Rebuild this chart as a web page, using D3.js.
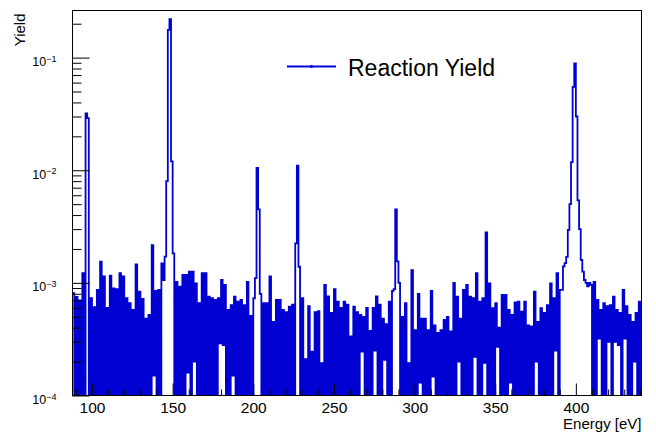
<!DOCTYPE html>
<html>
<head>
<meta charset="utf-8">
<script src="https://cdn.jsdelivr.net/npm/d3@7/dist/d3.min.js"></script>
<style>
  body { margin: 0; background: #fff; }
  svg { display: block; font-family: "Liberation Sans", Arial, Helvetica, sans-serif; }
</style>
</head>
<body>
<svg id="chart"></svg>
<script>
// Reaction yield histogram, 1 eV bins starting at 88 eV
// values are in units of 1e-4 (0 = empty bin)
var binStart = 88,
    binWidth = 1,
    yieldUnit = 1e-4;

var yield088 = [8.1, 0, 7.5, 0, 7.0, 0, 12.2, 0, 320, 290,
  0, 7.3, 0, 6.1, 0, 8.65, 0, 15.4, 0, 11.4,
  0, 6.0, 0, 11.6, 0, 8.95, 0, 8.8, 0, 12.2,
  0, 11.4, 0, 7.3, 0, 6.6, 0, 5.75, 0, 14.6,
  0, 8.35, 0, 7.2, 0, 4.8, 0, 5.2, 0, 21.6];
var yield138 = [1.5, 8.5, 0, 8.65, 0, 14.9, 10.6, 17.1, 80, 1760,
  2190, 120, 18.3, 0, 10.2, 0, 9.25, 0, 11.8, 0,
  11.8, 1.6, 12.6, 0, 12.6, 2.0, 9.9, 0, 6.6, 0,
  12.2, 0, 12.2, 0, 7.55, 0, 7.3, 0, 7.05, 0,
  7.3, 2.9, 10.6, 2.8, 9.6, 0, 5.75, 0, 6.35, 1.5];
var yield188 = [7.55, 0, 6.8, 0, 7.05, 0, 6.35, 0, 10.2, 0,
  5.1, 0, 7.3, 11, 105, 45, 8, 0, 6.6, 0,
  6.6, 0, 11.4, 0, 4.5, 0, 7.05, 0, 7.05, 0,
  5.75, 0, 5.5, 0, 6.15, 0, 6.4, 0, 22.4, 110,
  13.9, 0, 7.3, 0, 2.1, 0, 6.2, 0, 2.45, 0];
var yield238 = [5.5, 0, 5.6, 0, 1.94, 0, 9.6, 0, 7.6, 0,
  5.4, 0, 8.8, 0, 6.8, 0, 6.0, 0, 6.8, 0,
  6.4, 0, 3.35, 0, 6.15, 0, 5.5, 0, 5.2, 2.45,
  5.0, 0, 6.0, 0, 3.75, 0, 6.0, 2.5, 7.6, 0,
  6.4, 0, 4.8, 2.07, 4.3, 0, 6.8, 0, 8.5, 8.8];
var yield288 = [45, 15.5, 10, 0, 5.0, 0, 6.6, 0, 1.94, 0,
  13, 0, 3.8, 0, 8.0, 1.3, 4.8, 0, 4.8, 0,
  3.8, 0, 8.5, 1.47, 4.2, 0, 3.6, 0, 3.8, 0,
  4.7, 0, 5.0, 0, 3.7, 0, 10, 0, 7.55, 2.0,
  4.8, 0, 8.65, 0, 9.6, 0, 7.55, 0, 7.3, 2.2];
var yield338 = [12.2, 0, 6.8, 0, 7.3, 1.95, 28, 0, 9.9, 0,
  5.95, 0, 6.6, 2.7, 4.0, 0, 7.8, 0, 7.8, 0,
  5.75, 1.3, 5.2, 0, 6.7, 0, 6.8, 0, 5.55, 0,
  6.8, 0, 4.2, 0, 4.1, 0, 8.35, 2.0, 4.5, 0,
  5.95, 0, 5.4, 0, 6.35, 0, 9.9, 0, 7.3, 2.5];
var yield388 = [12.2, 0, 8.65, 8.65, 14, 15, 17, 29.5, 50, 118,
  550, 890, 300, 54, 30, 16, 12.6, 10.6, 10, 9.3,
  10, 9.6, 0, 10.2, 0, 7.05, 3.2, 5.75, 0, 6.6,
  0, 6.2, 3.0, 6.35, 0, 7.55, 3.0, 5.75, 2.8, 5.4,
  0, 8.65, 3.2, 6.2, 0, 5.2, 0, 4.5, 2.0, 5.4,
  0, 6.8, 0];

// axis ranges and ticks
var xRange = [87.9, 440.7],
    yRange = [1e-4, 0.262];
var xMajorTicks = [100, 150, 200, 250, 300, 350, 400];
var yMajorTicks = [1e-4, 1e-3, 1e-2, 1e-1];
var legendLabel = "Reaction Yield";

var counts = [].concat(yield088, yield138, yield188, yield238, yield288, yield338, yield388);
var bins = counts.map(function (c, i) {
  return { x: binStart + i * binWidth, y: c * yieldUnit };
});
// closing point for the last step
bins.push({ x: binStart + counts.length * binWidth, y: bins[bins.length - 1].y });

var width = 656,
    height = 433,
    frame = { left: 72.5, right: 641.5, top: 10.5, bottom: 395.5 };

var colour = "#0000d2";

var svg = d3.select("#chart")
  .attr("width", width)
  .attr("height", height);

svg.append("rect")
  .attr("width", width)
  .attr("height", height)
  .attr("fill", "#fff");

var x = d3.scaleLinear()
  .domain(xRange)
  .range([frame.left, frame.right]);

var y = d3.scaleLog()
  .domain(yRange)
  .range([frame.bottom, frame.top])
  .clamp(true);

svg.append("clipPath")
  .attr("id", "frame-clip")
  .append("rect")
    .attr("x", frame.left)
    .attr("y", frame.top)
    .attr("width", frame.right - frame.left)
    .attr("height", frame.bottom - frame.top);

// histogram outline (empty bins drop to the bottom of the log axis)
var line = d3.line()
  .x(function (d) { return x(d.x); })
  .y(function (d) { return y(Math.max(d.y, yRange[0])); })
  .curve(d3.curveStepAfter);

svg.append("path")
  .datum(bins)
  .attr("clip-path", "url(#frame-clip)")
  .attr("d", line)
  .attr("fill", "none")
  .attr("stroke", colour)
  .attr("stroke-width", 1.8)
  .attr("stroke-linejoin", "miter");

// frame
svg.append("rect")
  .attr("x", frame.left)
  .attr("y", frame.top)
  .attr("width", frame.right - frame.left)
  .attr("height", frame.bottom - frame.top)
  .attr("fill", "none")
  .attr("stroke", "#000")
  .attr("stroke-width", 1);

// X axis: ticks point into the frame
var xMinor = d3.range(90, xRange[1], 10).filter(function (v) { return xMajorTicks.indexOf(v) < 0; });

svg.append("g")
  .attr("transform", "translate(0," + frame.bottom + ")")
  .call(d3.axisBottom(x).tickValues(xMinor).tickSize(-6).tickFormat(""))
  .call(function (g) { g.select(".domain").remove(); });

var xAxis = svg.append("g")
  .attr("transform", "translate(0," + frame.bottom + ")")
  .call(d3.axisBottom(x).tickValues(xMajorTicks).tickSize(-12).tickPadding(6).tickFormat(d3.format("d")))
  .call(function (g) { g.select(".domain").remove(); });

xAxis.selectAll("text")
  .attr("font-size", "15.5px")
  .attr("font-family", "Liberation Sans, Arial, sans-serif")
  .attr("fill", "#000");

// Y axis: log ticks, minor at 2..9 of each decade
var yMinor = [];
yMajorTicks.forEach(function (d) {
  for (var k = 2; k <= 9; k++) {
    if (d * k <= yRange[1]) yMinor.push(d * k);
  }
});

svg.append("g")
  .attr("transform", "translate(" + frame.left + ",0)")
  .call(d3.axisLeft(y).tickValues(yMinor).tickSize(-9).tickFormat(""))
  .call(function (g) { g.select(".domain").remove(); });

var yAxis = svg.append("g")
  .attr("transform", "translate(" + frame.left + ",0)")
  .call(d3.axisLeft(y).tickValues(yMajorTicks).tickSize(-17).tickFormat(""))
  .call(function (g) { g.select(".domain").remove(); });

yAxis.selectAll(".tick line").attr("stroke", "#000");

// labels as 10^n
var yLabel = yAxis.selectAll(".tick")
  .append("text")
  .attr("x", -16)
  .attr("y", 8)
  .attr("text-anchor", "end")
  .attr("fill", "#000")
  .attr("font-family", "Liberation Sans, Arial, sans-serif");

yLabel.append("tspan")
  .attr("font-size", "12.5px")
  .text("10");

yLabel.append("tspan")
  .attr("font-size", "9px")
  .attr("dy", -4.5)
  .text(function (d) { return "\u2212" + Math.round(-Math.log10(d)); });

// axis titles
svg.append("text")
  .attr("x", frame.right)
  .attr("y", 428.5)
  .attr("text-anchor", "end")
  .attr("font-size", "15px")
  .text("Energy [eV]");

svg.append("text")
  .attr("transform", "translate(25," + (frame.top + 3) + ") rotate(-90)")
  .attr("text-anchor", "end")
  .attr("font-size", "15px")
  .text("Yield");

// legend
svg.append("line")
  .attr("x1", 287)
  .attr("x2", 336)
  .attr("y1", 66.5)
  .attr("y2", 66.5)
  .attr("stroke", colour)
  .attr("stroke-width", 2);

svg.append("circle")
  .attr("cx", 311.5)
  .attr("cy", 66.5)
  .attr("r", 1.4)
  .attr("fill", colour);

svg.append("text")
  .attr("x", 348)
  .attr("y", 76)
  .attr("font-size", "23px")
  .attr("fill", "#000")
  .text(legendLabel);
</script>
</body>
</html>
